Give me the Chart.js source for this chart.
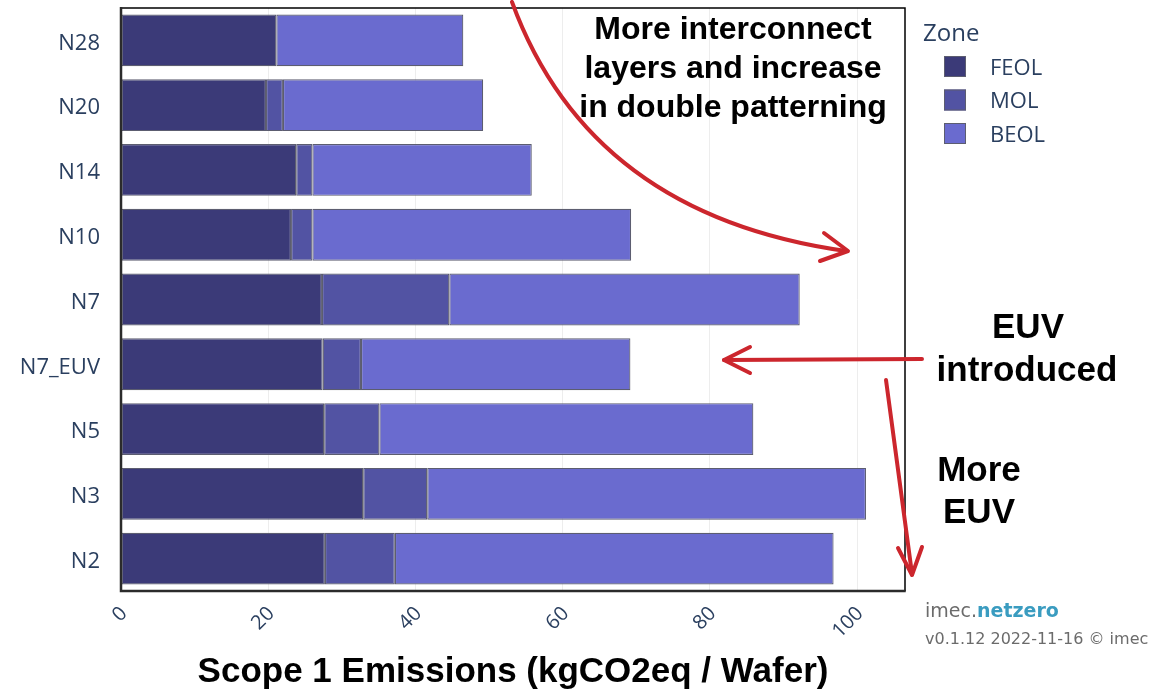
<!DOCTYPE html>
<html>
<head>
<meta charset="utf-8">
<script src="https://cdn.jsdelivr.net/npm/chart.js@4.4.1/dist/chart.umd.min.js"></script>
<style>
  html, body { margin: 0; padding: 0; background: #ffffff; }
  #wrap { width: 1169px; height: 693px; position: relative; }
</style>
</head>
<body>
<div id="wrap"><canvas id="c" width="1169" height="693"></canvas></div>
<script>
// ---- data ----
const categories = ['N28', 'N20', 'N14', 'N10', 'N7', 'N7_EUV', 'N5', 'N3', 'N2'];
const feol = [21.1, 19.7, 23.8, 23.1, 27.3, 27.4, 27.6, 32.9, 27.7];
const mol  = [0.0, 2.3, 2.2, 2.9, 17.3, 5.2, 7.5, 8.7, 9.5];
const beol = [25.4, 27.2, 29.8, 43.3, 47.6, 36.6, 50.8, 59.6, 59.6];
const seriesNames = ['FEOL', 'MOL', 'BEOL'];
const xTickValues = [0, 20, 40, 60, 80, 100];
const xMax = 106.5;
const axisTitle = 'Scope 1 Emissions (kgCO2eq / Wafer)';
const legendTitle = 'Zone';

const colors = ['#3b3a78', '#5253a3', '#6a6bcf'];
const borderCol = '#5c5d70';
const labelCol = '#2a3f5f';
const red = '#cc262d';

const overlay = {
  id: 'overlay',
  afterDatasetsDraw(chart) {
    const ctx = chart.ctx;
    const a = chart.chartArea;
    ctx.save();
    // frame
    ctx.strokeStyle = '#000';
    ctx.lineWidth = 1.5;
    ctx.beginPath();
    ctx.moveTo(a.left, a.top); ctx.lineTo(a.right, a.top); ctx.lineTo(a.right, a.bottom);
    ctx.stroke();
    ctx.strokeStyle = '#2b2b2b';
    ctx.lineWidth = 2.5;
    ctx.beginPath();
    ctx.moveTo(a.left, a.top - 1); ctx.lineTo(a.left, a.bottom); ctx.lineTo(a.right + 0.75, a.bottom);
    ctx.stroke();
    ctx.restore();
  },
  afterDraw(chart) {
    const ctx = chart.ctx;
    ctx.save();
    // legend
    ctx.fillStyle = labelCol;
    ctx.font = '24px "Open Sans"';
    ctx.textBaseline = 'alphabetic';
    ctx.textAlign = 'left';
    ctx.fillText(legendTitle, 923, 41);
    ctx.font = '22px "Open Sans"';
    chart.data.datasets.forEach((ds, i) => {
      const cy = 66.5 + i * 33.5;
      ctx.fillStyle = ds.backgroundColor;
      ctx.fillRect(944, cy - 10.5, 22, 21);
      ctx.strokeStyle = borderCol;
      ctx.lineWidth = 1;
      ctx.strokeRect(944.5, cy - 10, 21, 20);
      ctx.fillStyle = labelCol;
      ctx.fillText(ds.label, 990, cy + 8);
    });

    // watermark
    ctx.font = '19px "DejaVu Sans"';
    ctx.fillStyle = '#6b6b6b';
    ctx.fillText('imec.', 925, 617);
    const w = ctx.measureText('imec.').width;
    ctx.font = 'bold 19px "DejaVu Sans"';
    ctx.fillStyle = '#3a9cc0';
    ctx.fillText('netzero', 925 + w, 617);
    ctx.font = '16px "DejaVu Sans"';
    ctx.fillStyle = '#6b6b6b';
    ctx.fillText('v0.1.12 2022-11-16 \u00A9 imec', 925, 644);

    // annotation texts
    ctx.fillStyle = '#000';
    ctx.textAlign = 'center';
    ctx.font = 'bold 32px "Liberation Sans", Arial, sans-serif';
    ctx.fillText('More interconnect', 733, 39);
    ctx.fillText('layers and increase', 733, 78);
    ctx.fillText('in double patterning', 733, 117);
    ctx.font = 'bold 35px "Liberation Sans", Arial, sans-serif';
    ctx.fillText('EUV', 1028, 338);
    ctx.fillText('introduced', 1027, 381);
    ctx.fillText('More', 979, 481);
    ctx.fillText('EUV', 979, 523);

    // arrows
    ctx.strokeStyle = red;
    ctx.lineWidth = 4;
    ctx.lineCap = 'round';
    ctx.lineJoin = 'round';
    // curved arrow
    ctx.beginPath();
    ctx.moveTo(512, 2);
    ctx.quadraticCurveTo(590, 215, 846, 251);
    ctx.stroke();
    ctx.beginPath();
    ctx.moveTo(824, 233); ctx.lineTo(848, 251); ctx.lineTo(820, 261);
    ctx.stroke();
    // horizontal arrow
    ctx.beginPath();
    ctx.moveTo(922, 359); ctx.lineTo(724, 360);
    ctx.stroke();
    ctx.beginPath();
    ctx.moveTo(750, 347); ctx.lineTo(724, 360); ctx.lineTo(750, 373);
    ctx.stroke();
    // down arrow
    ctx.beginPath();
    ctx.moveTo(886, 380); ctx.lineTo(912, 574);
    ctx.stroke();
    ctx.beginPath();
    ctx.moveTo(898, 548); ctx.lineTo(912, 575); ctx.lineTo(922, 547);
    ctx.stroke();
    ctx.restore();
  }
};

const seriesData = [feol, mol, beol];
new Chart(document.getElementById('c'), {
  type: 'bar',
  data: {
    labels: categories,
    datasets: seriesNames.map((n, i) => ({
      label: n,
      data: seriesData[i],
      backgroundColor: colors[i],
      borderColor: borderCol,
      borderWidth: 1.2,
      borderSkipped: false,
      barPercentage: 1.0,
      categoryPercentage: 0.8
    }))
  },
  options: {
    indexAxis: 'y',
    responsive: false,
    animation: false,
    layout: { padding: { top: 8, right: 264, left: 0, bottom: 0 } },
    plugins: { legend: { display: false }, tooltip: { enabled: false } },
    scales: {
      x: {
        stacked: true,
        min: 0,
        max: xMax,
        afterFit(s) { s.height = 102; s.paddingLeft = 0; s.paddingRight = 0; },
        afterBuildTicks(s) { s.ticks = xTickValues.map(v => ({ value: v })); },
        grid: { color: '#ededed', lineWidth: 1, drawTicks: false },
        border: { display: false },
        ticks: {
          minRotation: 45, maxRotation: 45,
          padding: 11,
          labelOffset: 3,
          color: labelCol,
          font: { family: 'Open Sans', size: 20 }
        },
        title: {
          display: true,
          text: axisTitle,
          color: '#000',
          font: { family: 'Liberation Sans', size: 35, weight: 'bold' },
          padding: { top: 0, bottom: 0 }
        }
      },
      y: {
        stacked: true,
        afterFit(s) { s.width = 121; s.paddingTop = 0; s.paddingBottom = 0; },
        grid: { display: false, drawTicks: false },
        border: { display: false },
        ticks: {
          padding: 21,
          labelOffset: 3,
          color: labelCol,
          font: { family: 'Open Sans', size: 22 }
        }
      }
    }
  },
  plugins: [overlay]
});
</script>
</body>
</html>
